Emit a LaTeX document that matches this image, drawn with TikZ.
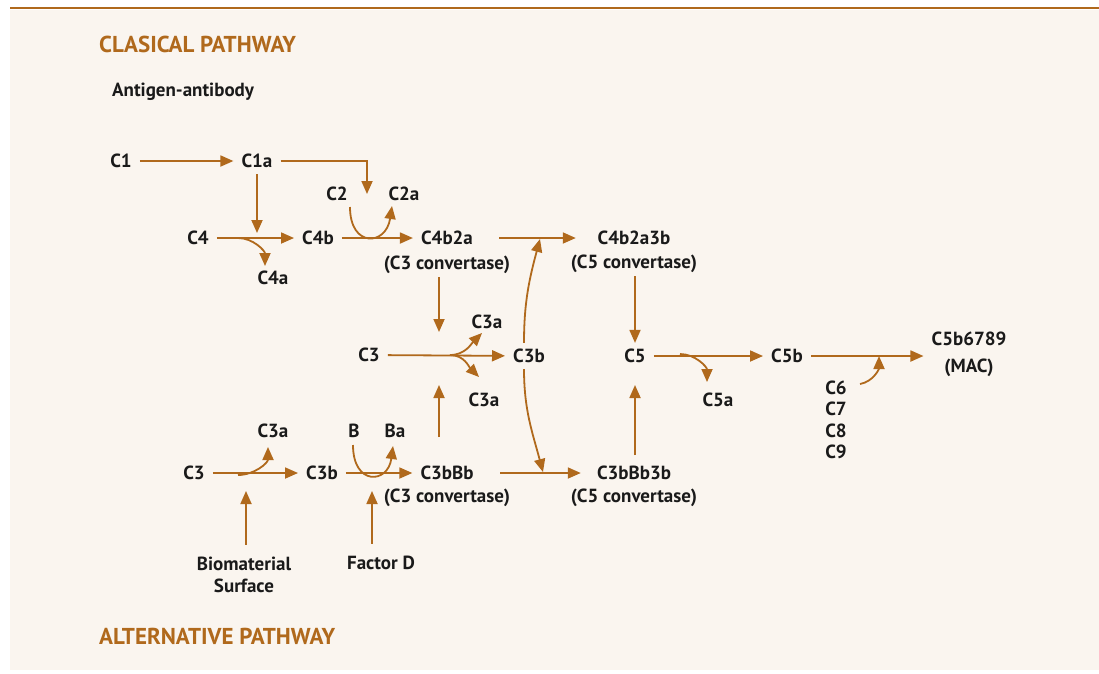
\documentclass[tikz,border=0pt]{standalone}
\usepackage{fontspec}
\setmainfont{PT Sans}
\usetikzlibrary{arrows.meta,positioning,calc}
\definecolor{pathbrown}{HTML}{B0691C}
\definecolor{panelcream}{HTML}{FAF5EF}
\definecolor{labelink}{HTML}{1A1A1A}

\begin{document}
\begin{tikzpicture}[x=1pt,y=-1pt,
    lbl/.style={font=\fontsize{19}{22}\selectfont\bfseries, text=labelink, inner xsep=8pt, inner ysep=6pt},
    sub/.style={lbl, inner ysep=3pt},
    ttl/.style={font=\fontsize{23}{25}\selectfont\bfseries, text=pathbrown, anchor=west, inner sep=0pt},
    arr/.style={draw=pathbrown, line width=1.8pt, -{Triangle[length=13pt,width=11pt]}},
    ln/.style={draw=pathbrown, line width=1.8pt}]
    \useasboundingbox (0,0) rectangle (1099,673);

    % Panel and top rule
    \fill[panelcream] (10,10) rectangle (1099,670);
    \draw[pathbrown, line width=1.5pt] (10,8) -- (1099,8);

    % Titles
    \node[ttl] (classical) at (99,44) {CLASICAL PATHWAY};
    \node[ttl] (alternative) at (99,636) {ALTERNATIVE PATHWAY};
    \node[lbl, anchor=west, inner sep=0pt] (antigen) at (112,92) {Antigen-antibody};

    % Classical pathway
    \node[lbl] (c1) at (121,161) {C1};
    \node[lbl] (c1a) at (257,161) {C1a};
    \node[lbl] (c2) at (337,194) {C2};
    \node[lbl] (c2a) at (404,194) {C2a};
    \node[lbl] (c4) at (198,238) {C4};
    \node[lbl] (c4a) at (273,278) {C4a};
    \node[lbl] (c4b) at (318,238) {C4b};
    \node[lbl] (c4b2a) at (447,238) {C4b2a};
    \node[sub, below=2pt of c4b2a] (c4b2aname) {(C3 convertase)};
    \node[lbl] (c4b2a3b) at (634,238) {C4b2a3b};
    \node[sub, below=1pt of c4b2a3b] (c4b2a3bname) {(C5 convertase)};

    \coordinate (c2drop) at (367,194);
    \coordinate (c4hit) at (257,233);
    \coordinate (c4fork) at (238,238);
    \coordinate (c4aend) at (265,266);
    \coordinate (c2start) at (350,207);
    \coordinate (c2aend) at (392,206);
    \coordinate (c3bup) at (540,239);

    \draw[arr] (c1) -- (c1a);
    \draw[arr] (c1a.east) -| (c2drop);
    \draw[arr] (c1a) -- (c4hit);
    \draw[arr] (c4) -- (c4b);
    \draw[arr] (c4fork) to[out=0,in=90] (c4aend);
    \draw[arr] (c4b) -- (c4b2a);
    \draw[arr] (c2start) .. controls (350,248) and (386,246) .. (c2aend);
    \draw[arr] ([xshift=-19pt]c4b2aname.east |- c4b2a) -- ([xshift=13pt]c4b2a3bname.west |- c4b2a3b);

    % Middle row
    \node[lbl] (c3) at (369,355) {C3};
    \node[lbl] (c3b) at (529,356) {C3b};
    \node[lbl] (c3aup) at (487,322) {C3a};
    \node[lbl] (c3adown) at (484,400) {C3a};
    \node[lbl] (c5) at (635,356) {C5};
    \node[lbl] (c5a) at (718,400) {C5a};
    \node[lbl] (c5b) at (787,356) {C5b};
    \node[lbl, align=center] (mac) at (969,354) {C5b6789\\[5pt](MAC)};
    \node[lbl, align=left, font=\fontsize{19}{21.5}\selectfont\bfseries] (c6789) at (836,420) {C6\\C7\\C8\\C9};

    \coordinate (c3fork) at (450,355);
    \coordinate (c3aupend) at (482,333);
    \coordinate (c3adownend) at (479,377);
    \coordinate (c3intop) at (439,332);
    \coordinate (c3inbot) at (439,385);
    \coordinate (c5fork) at (680,354);
    \coordinate (c5aend) at (707,382);
    \coordinate (c6start) at (860,384);
    \coordinate (c6end) at (879,356);
    \coordinate (c3bdown) at (543,472);

    \draw[arr] (c3) -- (c3b);
    \draw[arr] (c3fork) to[out=0,in=-135] (c3aupend);
    \draw[arr] (c3fork) to[out=0,in=135] (c3adownend);
    \draw[arr] (c4b2aname.south -| c3intop) -- (c3intop);
    \draw[arr] ([xshift=-5pt]c3b.north) to[out=90,in=-105] (c3bup);
    \draw[arr] ([xshift=-5pt]c3b.south) to[out=-90,in=105] (c3bdown);
    \draw[arr] (c4b2a3bname.south -| c5) -- (c5);
    \draw[arr] (c5) -- (c5b);
    \draw[arr] (c5fork) to[out=0,in=90] (c5aend);
    \draw[arr] (c5b) -- (mac.west |- c5b);
    \draw[arr] (c6start) to[out=10,in=-90] (c6end);

    % Alternative pathway
    \node[lbl] (c3alt) at (194,473) {C3};
    \node[lbl] (c3aalt) at (273,431) {C3a};
    \node[lbl] (c3balt) at (322,473) {C3b};
    \node[lbl] (b) at (354,431) {B};
    \node[lbl] (ba) at (395,431) {Ba};
    \node[lbl] (c3bbb) at (447,473) {C3bBb};
    \node[sub, below=0pt of c3bbb] (c3bbbname) {(C3 convertase)};
    \node[lbl] (c3bbb3b) at (634,473) {C3bBb3b};
    \node[sub, below=0pt of c3bbb3b] (c3bbb3bname) {(C5 convertase)};
    \node[lbl, align=center] (surface) at (244,575) {Biomaterial\\Surface};
    \node[lbl] (factord) at (381,563) {Factor D};

    \coordinate (altfork) at (238,475);
    \coordinate (c3aaltend) at (268,447);
    \coordinate (bstart) at (353,445);
    \coordinate (baend) at (393,446);
    \coordinate (surfhit) at (246,491);
    \coordinate (facthit) at (372,491);
    \coordinate (c3bbbup) at (439,437);
    \coordinate (c5upstart) at (635,455);

    \draw[arr] (c3alt) -- (c3balt);
    \draw[arr] (altfork) to[out=0,in=-90] (c3aaltend);
    \draw[arr] (c3balt) -- (c3bbb);
    \draw[arr] (bstart) .. controls (353,486) and (388,484) .. (baend);
    \draw[arr] ([xshift=-18pt]c3bbbname.east |- c3bbb) -- ([xshift=18pt]c3bbb3bname.west |- c3bbb3b);
    \draw[arr] (surface.north -| surfhit) ++(0,-6) -- (surfhit);
    \draw[arr] (factord.north -| facthit) ++(0,-6) -- (facthit);
    \draw[arr] (c3bbbup) -- (c3inbot);
    \draw[arr] (c5upstart) -- (c5 |- c3inbot);
\end{tikzpicture}
\end{document}
